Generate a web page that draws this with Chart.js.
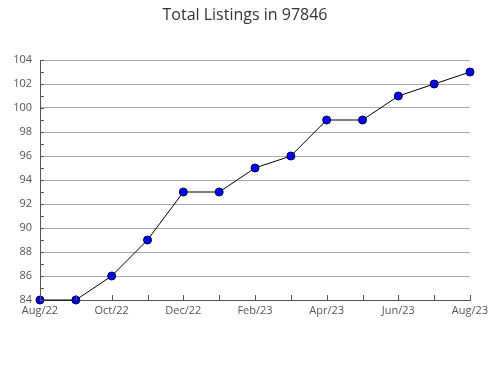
<!DOCTYPE html>
<html>
<head>
<meta charset="utf-8">
<script src="https://cdn.jsdelivr.net/npm/chart.js@4"></script>
<style>
  html, body { margin: 0; padding: 0; background: #fff; }
  #wrap { width: 490px; height: 380px; }
</style>
</head>
<body>
<div id="wrap"><canvas id="c" width="490" height="380"></canvas></div>
<script>
const months = ['Aug/22','Sep/22','Oct/22','Nov/22','Dec/22','Jan/23','Feb/23','Mar/23','Apr/23','May/23','Jun/23','Jul/23','Aug/23'];
const listings = [84, 84, 86, 89, 93, 93, 95, 96, 99, 99, 101, 102, 103];
const yMin = 84, yMax = 104;
const chartTitle = 'Total Listings in 97846';

// title + small inward tick marks on both axes
const decor = {
  id: 'decor',
  afterDraw(chart) {
    const ctx = chart.ctx;
    const x = chart.scales.x, y = chart.scales.y;
    const area = chart.chartArea;
    ctx.save();
    ctx.strokeStyle = '#555';
    ctx.lineWidth = 1;
    ctx.beginPath();
    for (let v = yMin; v <= yMax; v++) {
      const py = Math.round(y.getPixelForValue(v)) + 0.5;
      ctx.moveTo(area.left, py);
      ctx.lineTo(area.left + 4, py);
    }
    for (let i = 0; i < months.length; i++) {
      const px = Math.round(x.getPixelForValue(i)) + 0.5;
      ctx.moveTo(px, area.bottom);
      ctx.lineTo(px, area.bottom - 5);
    }
    ctx.stroke();
    ctx.fillStyle = '#333';
    ctx.font = '16px "Open Sans"';
    ctx.textAlign = 'center';
    ctx.textBaseline = 'middle';
    ctx.fillText(chartTitle, chart.width / 2, 15);
    ctx.restore();
  }
};

new Chart(document.getElementById('c'), {
  type: 'line',
  data: {
    labels: months,
    datasets: [{
      data: listings,
      borderColor: '#000',
      borderWidth: 1,
      pointRadius: 4,
      pointBackgroundColor: '#0000ff',
      pointBorderColor: '#000033',
      pointBorderWidth: 1,
      tension: 0,
      clip: false
    }]
  },
  options: {
    responsive: false,
    animation: false,
    layout: { padding: { top: 60, right: 20, bottom: 60, left: 0 } },
    plugins: { legend: { display: false }, tooltip: { enabled: false }, title: { display: false } },
    scales: {
      x: {
        offset: false,
        grid: { display: false, drawTicks: false },
        border: { color: '#555', width: 1 },
        afterFit: s => { s.height = 20; s.paddingLeft = 0; s.paddingRight = 0; },
        ticks: {
          autoSkip: false,
          maxRotation: 0,
          padding: 4,
          color: '#555',
          font: { family: '"Open Sans"', size: 11 },
          callback: (v, i) => i % 2 === 0 ? months[i] : ''
        }
      },
      y: {
        min: yMin,
        max: yMax,
        afterFit: s => { s.width = 40; },
        grid: {
          drawTicks: false,
          color: ctx => (ctx.tick && ctx.tick.value % 2 === 0) ? '#aaa' : 'rgba(0,0,0,0)'
        },
        border: { color: '#555', width: 1 },
        ticks: {
          stepSize: 1,
          padding: 8,
          color: '#555',
          font: { family: '"Open Sans"', size: 11 },
          callback: v => v % 2 === 0 ? v : ''
        }
      }
    }
  },
  plugins: [decor]
});
</script>
</body>
</html>
